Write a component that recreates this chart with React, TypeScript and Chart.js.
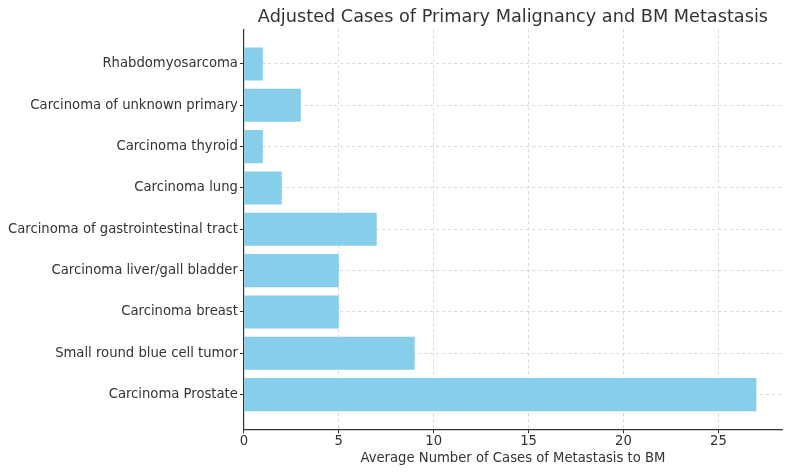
import React, { useEffect, useRef } from "react";
import { Chart, registerables } from "chart.js";

Chart.register(...registerables);

// bottom to top (matplotlib barh order)
const categories: string[] = [
  "Carcinoma Prostate",
  "Small round blue cell tumor",
  "Carcinoma breast",
  "Carcinoma liver/gall bladder",
  "Carcinoma of gastrointestinal tract",
  "Carcinoma lung",
  "Carcinoma thyroid",
  "Carcinoma of unknown primary",
  "Rhabdomyosarcoma",
];
const cases: number[] = [27, 9, 5, 5, 7, 2, 1, 3, 1];
const xTicks: number[] = [0, 5, 10, 15, 20, 25];

const FONT = "'DejaVu Sans', sans-serif";
const TEXT = "#333333";

export default function App() {
  const ref = useRef<HTMLCanvasElement>(null);
  useEffect(() => {
    if (!ref.current) return;
    const maxVal = Math.max(...cases);
    const n = categories.length;
    const gridCommon = {
      color: "#d0d0d0",
      tickBorderDash: [],
      tickColor: TEXT,
      tickLength: 4,
      tickWidth: 1,
      lineWidth: 0.8,
      offset: false,
    };
    const chart = new Chart(ref.current, {
      type: "bar",
      data: {
        datasets: [
          {
            data: cases.map((v, i) => ({ x: v, y: i })),
            backgroundColor: "#87CEEB",
            borderWidth: 0,
            barPercentage: 0.8,
            categoryPercentage: 1,
          },
        ],
      },
      options: {
        indexAxis: "y",
        animation: false,
        responsive: false,
        devicePixelRatio: 1,
        layout: { padding: { left: 6, right: 8, top: 0, bottom: 6 } },
        plugins: {
          legend: { display: false },
          tooltip: { enabled: false },
          title: {
            display: true,
            text: "Adjusted Cases of Primary Malignancy and BM Metastasis",
            color: TEXT,
            font: { family: FONT, size: 17.7, weight: "normal" },
            padding: { top: 7, bottom: 1 },
            fullSize: false,
          },
        },
        scales: {
          x: {
            type: "linear",
            min: 0,
            max: maxVal * 1.05,
            offset: false,
            afterBuildTicks: (scale: any) => {
              scale.ticks = xTicks.map((v) => ({ value: v }));
            },
            ticks: {
              color: TEXT,
              font: { family: FONT, size: 13.2 },
              padding: 0,
              maxRotation: 0,
            },
            grid: gridCommon,
            border: { display: true, color: TEXT, width: 1.2, dash: [3, 3] },
            title: {
              display: true,
              text: "Average Number of Cases of Metastasis to BM",
              color: TEXT,
              font: { family: FONT, size: 13.2 },
              padding: { top: 1, bottom: 0 },
            },
          },
          y: {
            type: "linear",
            min: -0.4 - 0.44,
            max: n - 1 + 0.4 + 0.44,
            offset: false,
            afterBuildTicks: (scale: any) => {
              scale.ticks = categories.map((_, i) => ({ value: i }));
            },
            ticks: {
              color: TEXT,
              font: { family: FONT, size: 13.2 },
              padding: 2,
              callback: (v: any) => categories[Number(v)] ?? "",
            },
            grid: gridCommon,
            border: { display: true, color: TEXT, width: 1.2, dash: [3, 3] },
          },
        },
      },
    } as any);
    return () => chart.destroy();
  }, []);
  return (
    <div style={{ position: "absolute", left: 0, top: 0, width: 790, height: 472, background: "#fff" }}>
      <canvas ref={ref} width={790} height={472} />
    </div>
  );
}
